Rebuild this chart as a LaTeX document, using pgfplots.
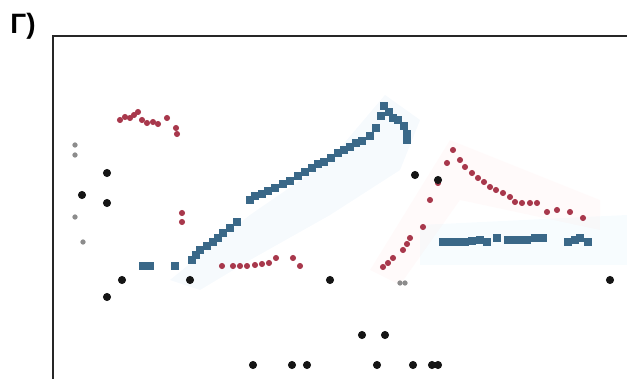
\documentclass[border=0pt]{standalone}
\usepackage{pgfplots}
\pgfplotsset{compat=1.18}
\usepackage{fontspec}
\setmainfont{Liberation Sans}
\definecolor{redser}{HTML}{A8384C}
\definecolor{blueser}{HTML}{3A6888}
\definecolor{blkser}{HTML}{151515}
\begin{document}
\begin{tikzpicture}
\useasboundingbox (0,0) rectangle (313.5pt,189.5pt);
\clip (0,0) rectangle (313.5pt,189.5pt);
\node[font=\bfseries\fontsize{14}{14}\selectfont, inner sep=0pt] at (11.5pt,176.5pt) {Г)};
\begin{axis}[
  at={(26.5pt,171.5pt)}, anchor=north west,
  scale only axis, width=287.5pt, height=178pt,
  xmin=53, xmax=628, ymin=36, ymax=392, y dir=reverse,
  ticks=none, axis line style={line width=1.4pt, draw=black!85},
  clip=false,
]
% faint haze
\addplot[draw=none, fill=cyan!60!blue, fill opacity=0.04] coordinates {(170,280) (250,215) (330,160) (385,95) (420,120) (400,170) (330,215) (250,260) (200,290)} -- cycle;
\addplot[draw=none, fill=cyan!60, fill opacity=0.05] coordinates {(420,225) (627,215) (627,265) (420,265)} -- cycle;
\addplot[draw=none, fill=red!50, fill opacity=0.04] coordinates {(370,270) (450,140) (600,200) (600,230) (460,200) (400,285)} -- cycle;
% red series
\addplot[only marks, mark=*, mark size=1.3pt, color=redser] coordinates {
(120,120) (125,117) (130,118) (134,115) (138,112) (142,120) (147,123) (153,122) (158,124) (167,118) (176,128) (177,134)
(182,213) (182,222)
(222,266) (233,266) (240,266) (247,266) (255,265) (262,264) (269,263) (276,258) (293,258) (300,266)
(383,267) (388,263) (393,258) (403,250) (407,244) (410,238) (423,227) (430,200) (438,183) (447,163) (453,150)
(460,160) (465,167) (472,173) (478,178) (484,182) (490,187) (496,190) (503,193) (510,197) (515,202) (522,203) (530,203) (537,203) (547,212) (557,210) (570,212) (583,218)};
% blue series
\addplot[only marks, mark=square*, mark size=1.6pt, color=blueser] coordinates {
(143,266) (150,266) (175,266)
(192,260) (196,255) (200,250) (207,246) (213,242) (218,238) (223,233) (230,228) (237,222)
(250,200) (255,196) (262,194) (268,191) (275,188) (283,184) (290,181) (298,176) (305,172) (312,168) (318,164) (324,162) (331,158) (338,153) (344,150) (350,147) (356,143) (362,141) (370,136) (376,128) (381,116) (384,106) (389,112) (393,118) (398,120) (404,126) (407,134) (407,140)
(443,242) (450,242) (457,242) (465,242) (472,241) (480,240) (487,242) (497,238) (508,240) (514,240) (520,240) (527,240) (535,238) (543,238) (568,242) (575,240) (580,238) (588,242)};
% black series
\addplot[only marks, mark=*, mark size=1.8pt, color=blkser] coordinates {
(82,195) (107,173) (107,203) (122,280) (107,297) (190,280)
(330,280) (610,280) (362,335) (385,335)
(253,365) (292,365) (307,365) (377,365) (413,365) (432,365) (438,365)
(415,175) (438,180)};
\addplot[only marks, mark=*, mark size=1.1pt, color=black!45] coordinates {
(75,145) (75,155) (83,242) (75,217) (405,283) (400,283)};
\end{axis}
\end{tikzpicture}
\end{document}
